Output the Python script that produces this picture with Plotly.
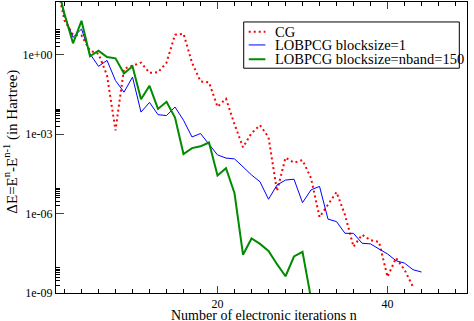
import plotly.graph_objects as go

# Delta E per electronic iteration (Hartree)
cg_n = list(range(1, 44))
cg_de = [6.3e2, 2.0e1, 5.8, 5.4, 1.45, 1.1, 1.7e-1, 1.4e-3, 3.0e-1, 4.0e-1,
         5.1e-1, 2.1e-1, 2.2e-1, 5.1e-1, 5.8, 6.3, 5.1e-1, 1.0e-1, 9.1e-2, 1.1e-2,
         2.2e-2, 2.4e-3, 3.2e-4, 1.1e-3, 2.2e-3, 7.8e-4, 7.1e-6, 1.3e-4, 8.5e-5, 1.05e-4,
         2.2e-5, 7.4e-7, 2.1e-6, 6.5e-6, 8.9e-7, 5.6e-8, 1.6e-7, 1.0e-7, 8.5e-8, 4.1e-9,
         2.1e-8, 7.6e-9, 1.7e-9]

lob1_n = list(range(1, 45))
lob1_de = [6.3e2, 3.0e1, 4.6, 9.5, 1.1, 3.7e-1, 6.2e-1, 1.07e-1, 3.9e-2, 1.45e-1,
           6.9e-3, 1.6e-2, 5.5e-3, 5.1e-3, 1.07e-2, 3.4e-3, 7.9e-4, 1.07e-3, 4.2e-4, 1.66e-4,
           1.26e-4, 1.17e-4, 5.9e-5, 2.9e-5, 1.6e-5, 3.5e-6, 1.2e-5, 1.86e-5, 2.0e-5, 2.6e-6,
           7.9e-6, 1.07e-5, 6.2e-7, 5.0e-7, 1.8e-7, 1.8e-7, 7.6e-8, 7.2e-8, 4.6e-8, 3.0e-8,
           1.66e-8, 1.35e-8, 7.6e-9, 6.2e-9]

lob150_n = list(range(1, 32))
lob150_de = [6.3e2, 3.5e1, 2.75, 1.95e1, 8.9e-1, 1.45, 8.3e-1, 7.4e-1, 2.0e-1, 3.7e-1,
             2.1e-2, 6.8e-2, 9.1e-3, 1.7e-2, 4.3e-3, 1.8e-4, 3.0e-4, 3.5e-4, 4.9e-4, 2.75e-5,
             5.2e-5, 5.9e-6, 2.8e-8, 1.15e-7, 7.2e-8, 3.9e-8, 1.23e-8, 4.3e-9, 2.4e-8, 3.6e-8,
             6.3e-10]

series_names = ["CG", "LOBPCG blocksize=1", "LOBPCG blocksize=nband=150"]
series_colors = ["#ff0000", "#0000ff", "#008b00"]
series_widths = [2, 1, 2]
series_dash = ["2px,3px", "solid", "solid"]

ytick_vals = [1e-9, 1e-6, 1e-3, 1e0]
ytick_text = ["1e-09", "1e-06", "1e-03", "1e+00"]
yminor_vals = [k * 10.0 ** e for e in (-9, -6, -3, 0) for k in range(2, 10)]

serif = "Liberation Serif"

fig = go.Figure()
for xs, ys, name, col, w, d in zip([cg_n, lob1_n, lob150_n], [cg_de, lob1_de, lob150_de],
                                   series_names, series_colors, series_widths, series_dash):
    fig.add_trace(go.Scatter(x=xs, y=ys, mode="lines", name=name,
                             line=dict(color=col, width=w, dash=d)))

# hand-drawn legend box, Grace style (short line samples, tight rows)
fig.add_shape(type="rect", xref="paper", yref="paper", x0=0.4567, x1=0.9813,
              y0=0.7724, y1=0.9314, line=dict(color="black", width=1), fillcolor="white",
              layer="above")
row_y = [0.8981, 0.8524, 0.8033]
for yy, name, col, w, d in zip(row_y, series_names, series_colors, series_widths, series_dash):
    fig.add_shape(type="line", xref="paper", yref="paper", x0=0.4689, x1=0.5095,
                  y0=yy, y1=yy, line=dict(color=col, width=w, dash=d), layer="above")
    fig.add_annotation(xref="paper", yref="paper", x=0.528, y=yy, text=name,
                       showarrow=False, xanchor="left", yanchor="middle",
                       font=dict(family=serif, size=14.5, color="black"))

# axis titles
fig.add_annotation(xref="paper", yref="paper", x=0.506, y=0, yshift=-22,
                   text="Number of electronic iterations n", showarrow=False,
                   xanchor="center", yanchor="middle",
                   font=dict(family=serif, size=14, color="black"))
fig.add_annotation(xref="paper", yref="paper", x=0, xshift=-45, y=0.52,
                   text="ΔE=E<sup>n</sup>-E<sup>n-1</sup> (in Hartree)", textangle=-90,
                   showarrow=False, xanchor="center", yanchor="middle",
                   font=dict(family=serif, size=15, color="black"))

fig.update_layout(
    width=474, height=321,
    margin=dict(l=56, r=7, t=2, b=28),
    plot_bgcolor="white", paper_bgcolor="white",
    font=dict(family=serif, size=12, color="black"),
    showlegend=False,
)
fig.update_xaxes(
    range=[1, 49.35], tick0=0, dtick=20, ticks="inside", ticklen=7,
    showline=True, linecolor="black", linewidth=1, mirror="ticks", automargin=False,
    showgrid=False, zeroline=False, tickfont=dict(family=serif, size=12),
    minor=dict(dtick=2, tick0=0, ticks="inside", ticklen=4, tickcolor="black"),
)
fig.update_yaxes(
    type="log", range=[-9, 2], tickvals=ytick_vals, ticktext=ytick_text,
    ticks="inside", ticklen=8, showline=True, linecolor="black", linewidth=1,
    mirror=True, showgrid=False, zeroline=False, automargin=False,
    tickfont=dict(family=serif, size=12),
    minor=dict(tickvals=yminor_vals, ticks="inside", ticklen=4, tickcolor="black"),
)

# the page body has a default 8px margin; drop it so the figure sits at the corner
fig.write_html("out.html", config={"displayModeBar": False},
               post_script="document.body.style.margin='0';")
